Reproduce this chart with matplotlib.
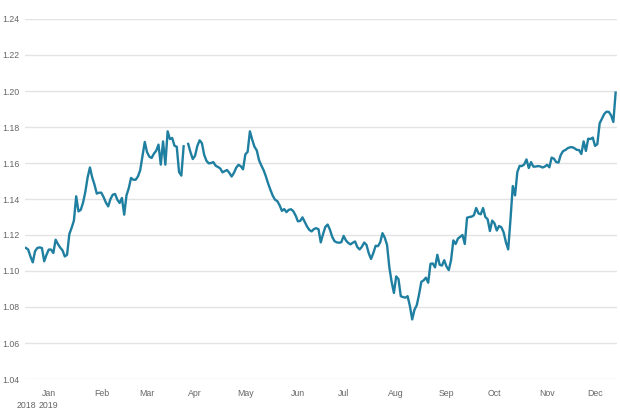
import numpy as np
import pandas as pd
import matplotlib
matplotlib.use("Agg")
import matplotlib.pyplot as plt
from matplotlib.transforms import blended_transform_factory

start_date = "2018-12-18"
values = [
    1.1128, 1.1119, 1.1080, 1.1048, 1.1110, 1.1128, 1.1131, 1.1128, 1.1054, 1.1090,
    1.1119, 1.1119, 1.1100, 1.1174, 1.1150, 1.1130, 1.1115, 1.1081, 1.1090, 1.1205,
    1.1240, 1.1280, 1.1415, 1.1331, 1.1340, 1.1380, 1.1440, 1.1520, 1.1575, 1.1520,
    1.1480, 1.1430, 1.1435, 1.1435, 1.1410, 1.1380, 1.1359, 1.1400, 1.1424, 1.1428,
    1.1396, 1.1378, 1.1406, 1.1313, 1.1420, 1.1460, 1.1517, 1.1507, 1.1507, 1.1525,
    1.1560, 1.1640, 1.1717, 1.1660, 1.1635, 1.1628, 1.1652, 1.1668, 1.1702, 1.1591,
    1.1720, 1.1591, 1.1776, 1.1733, 1.1739, 1.1696, 1.1690, 1.1550, 1.1530, 1.1693,
    np.nan, 1.1706, 1.1660, 1.1622, 1.1640, 1.1695, 1.1726, 1.1710, 1.1645, 1.1612,
    1.1598, 1.1600, 1.1605, 1.1585, 1.1578, 1.1570, 1.1548, 1.1555, 1.1561, 1.1545,
    1.1525, 1.1545, 1.1574, 1.1590, 1.1582, 1.1565, 1.1648, 1.1662, 1.1776, 1.1730,
    1.1690, 1.1670, 1.1615, 1.1586, 1.1560, 1.1525, 1.1485, 1.1450, 1.1418, 1.1396,
    1.1388, 1.1365, 1.1334, 1.1344, 1.1327, 1.1340, 1.1343, 1.1332, 1.1308, 1.1276,
    1.1278, 1.1298, 1.1273, 1.1247, 1.1228, 1.1220, 1.1233, 1.1238, 1.1232, 1.1159,
    1.1205, 1.1245, 1.1258, 1.1230, 1.1190, 1.1166, 1.1159, 1.1157, 1.1160, 1.1195,
    1.1170, 1.1156, 1.1148, 1.1157, 1.1164, 1.1133, 1.1120, 1.1135, 1.1158, 1.1145,
    1.1098, 1.1067, 1.1100, 1.1140, 1.1138, 1.1159, 1.1210, 1.1185, 1.1145, 1.1020,
    1.0940, 1.0878, 1.0970, 1.0955, 1.0860, 1.0855, 1.0852, 1.0860, 1.0805, 1.0731,
    1.0785, 1.0810, 1.0870, 1.0940, 1.0948, 1.0963, 1.0935, 1.1040, 1.1042, 1.1020,
    1.1090, 1.1035, 1.1030, 1.1060, 1.1025, 1.1005, 1.1060, 1.1170, 1.1150, 1.1180,
    1.1190, 1.1200, 1.1150, 1.1296, 1.1300, 1.1302, 1.1310, 1.1350, 1.1320, 1.1315,
    1.1350, 1.1300, 1.1288, 1.1222, 1.1280, 1.1265, 1.1225, 1.1250, 1.1243, 1.1215,
    1.1160, 1.1120, 1.1287, 1.1472, 1.1420, 1.1550, 1.1584, 1.1583, 1.1592, 1.1620,
    1.1572, 1.1605, 1.1580, 1.1580, 1.1583, 1.1581, 1.1575, 1.1580, 1.1590, 1.1576,
    1.1630, 1.1624, 1.1605, 1.1602, 1.1645, 1.1666, 1.1672, 1.1682, 1.1687, 1.1688,
    1.1682, 1.1673, 1.1672, 1.1650, 1.1720, 1.1667, 1.1735, 1.1733, 1.1741, 1.1695,
    1.1705, 1.1820, 1.1846, 1.1872, 1.1885, 1.1884, 1.1865, 1.1828, 1.1991,
]
month_labels = ["Jan", "Feb", "Mar", "Apr", "May", "Jun", "Jul", "Aug", "Sep", "Oct", "Nov", "Dec"]
y_ticks = [1.04, 1.06, 1.08, 1.10, 1.12, 1.14, 1.16, 1.18, 1.20, 1.22, 1.24]

dates = pd.bdate_range(start=start_date, periods=len(values))
idx = np.arange(len(values))

plt.rcParams['font.family'] = ['Liberation Sans', 'DejaVu Sans']
fig = plt.figure(figsize=(6.2, 4.13), dpi=100)
ax = fig.add_axes([25/620, 1 - 379/413, (617-25)/620, (379-19)/413])

ax.plot(idx, values, color="#1f7fa0", lw=1.7, solid_joinstyle="round")

ax.set_ylim(1.04, 1.24)
ax.set_xlim(-0.4, len(values) - 0.4)
ax.set_yticks(y_ticks)
ax.set_yticklabels([f"{v:.2f}" for v in y_ticks])
ax.grid(axis="y", color="#e3e3e3", lw=1)
ax.set_axisbelow(True)
for s in ax.spines.values():
    s.set_visible(False)

# month ticks at first business day of each month of 2019
tick_pos = []
for m in range(1, 13):
    ms = pd.Timestamp(2019, m, 1)
    tick_pos.append(int(np.argmax(dates >= ms)))
ax.set_xticks(tick_pos)
ax.set_xticklabels(month_labels)
fs = 6.3
ax.tick_params(axis="both", length=0, labelsize=fs, colors="#666666")
ax.tick_params(axis="x", pad=7)
ax.tick_params(axis="y", pad=4)

trans = blended_transform_factory(ax.transData, ax.transAxes)
ax.text(0, -0.074, "2018", transform=trans, ha="center", va="center", fontsize=fs, color="#666666")
ax.text(tick_pos[0], -0.074, "2019", transform=trans, ha="center", va="center", fontsize=fs, color="#666666")

fig.savefig("out.png", dpi=100)
